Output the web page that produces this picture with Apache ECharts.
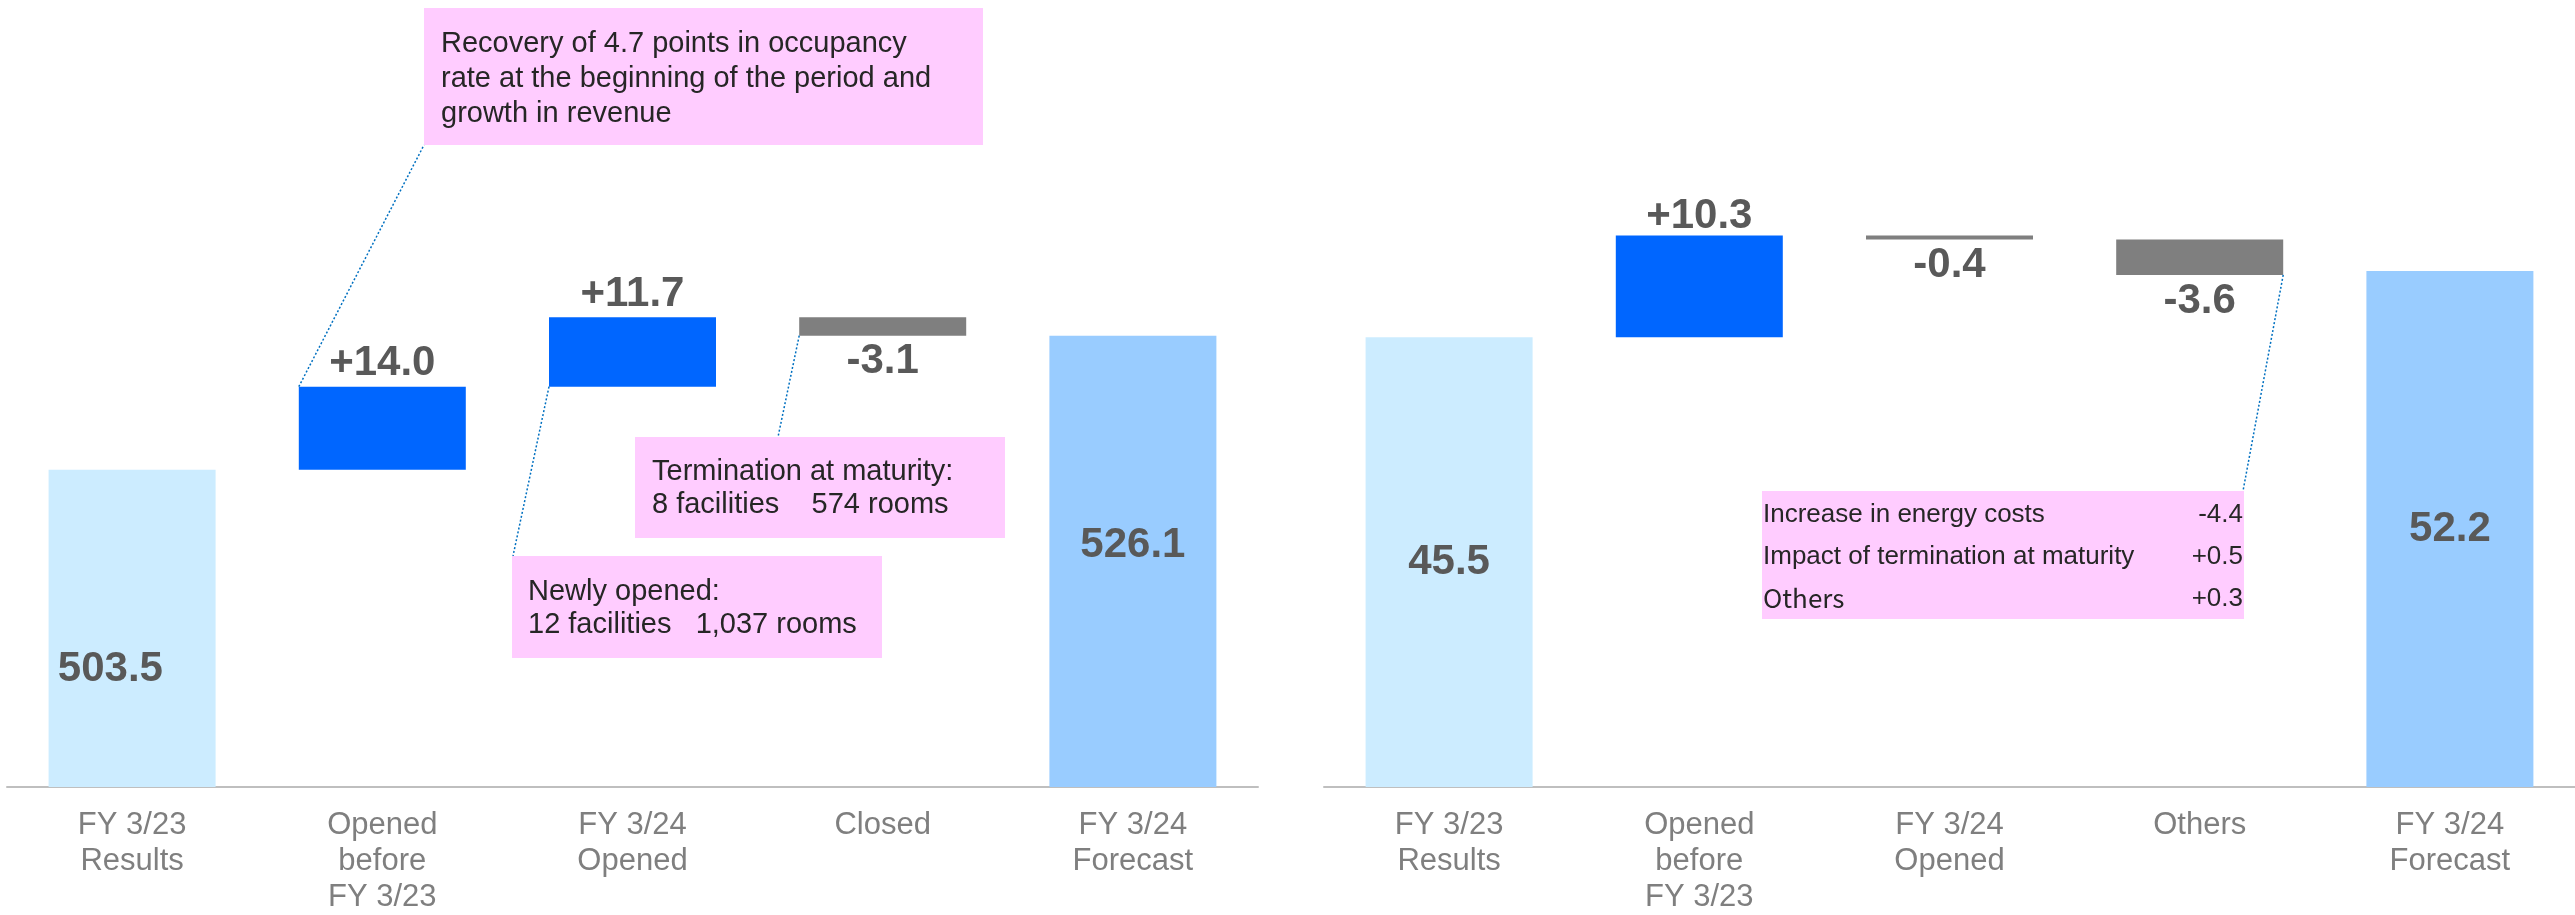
<!DOCTYPE html>
<html>
<head>
<meta charset="utf-8">
<script src="https://cdn.jsdelivr.net/npm/echarts@6/dist/echarts.min.js"></script>
<style>
html, body { margin: 0; padding: 0; background: #fff; }
#main { width: 2575px; height: 915px; }
</style>
</head>
<body>
<div id="main"></div>
<script>
// left: net sales bridge
var leftCategories = ['FY 3/23\nResults', 'Opened\nbefore\nFY 3/23', 'FY 3/24\nOpened', 'Closed', 'FY 3/24\nForecast'];
var leftStart = 503.5;
var leftSteps = [14.0, 11.7, -3.1];
var leftEnd = 526.1;

// right: profit bridge
var rightCategories = ['FY 3/23\nResults', 'Opened\nbefore\nFY 3/23', 'FY 3/24\nOpened', 'Others', 'FY 3/24\nForecast'];
var rightStart = 45.5;
var rightSteps = [10.3, -0.4, -3.6];
var rightEnd = 52.2;

// breakdown of "Others" (right chart)
var otherItems = ['Increase in energy costs', 'Impact of termination at maturity', 'Others'];
var otherValues = ['-4.4', '+0.5', '+0.3'];

var FONT = '"Liberation Sans", Arial, sans-serif';
var COLOR_START = '#CCECFF';
var COLOR_UP = '#0066FF';
var COLOR_DOWN = '#7F7F7F';
var COLOR_END = '#99CCFF';
var LABEL_COLOR = '#595959';
var BAR_W = 167;

function signed(v){
	return (v > 0 ? '+' : '') + v.toFixed(1);
}

// build the invisible base + visible bar for a waterfall
function buildWaterfall(start, steps, end, startPos, endPos, upDist){
	var base = [0];
	var bars = [];
	var valueLabel = {show: true, color: LABEL_COLOR, fontFamily: FONT, fontWeight: 'bold', fontSize: 42,
		formatter: function(p){ return p.data.text; }};
	bars.push({value: start, text: start.toFixed(1), itemStyle: {color: COLOR_START},
		label: Object.assign({}, valueLabel, startPos)});
	var running = start;
	for(var i = 0; i < steps.length; i++){
		var d = steps[i];
		if(d >= 0){
			base.push(running);
			bars.push({value: d, text: signed(d), itemStyle: {color: COLOR_UP},
				label: Object.assign({}, valueLabel, {position: 'top', distance: upDist})});
		}else{
			base.push(running + d);
			bars.push({value: -d, text: signed(d), itemStyle: {color: COLOR_DOWN},
				label: Object.assign({}, valueLabel, {position: 'bottom', distance: 5})});
		}
		running += d;
	}
	base.push(0);
	bars.push({value: end, text: end.toFixed(1), itemStyle: {color: COLOR_END},
		label: Object.assign({}, valueLabel, endPos)});
	return {base: base, bars: bars};
}

var leftWf = buildWaterfall(leftStart, leftSteps, leftEnd,
	{position: ['37%', '63%'], align: 'center', verticalAlign: 'middle'},
	{position: ['50%', '46.5%'], align: 'center', verticalAlign: 'middle'}, 2);
var rightWf = buildWaterfall(rightStart, rightSteps, rightEnd,
	{position: 'inside'}, {position: 'inside'}, -2);

function xAxisFor(idx, cats){
	return {
		type: 'category', gridIndex: idx, data: cats,
		axisLine: {lineStyle: {color: '#BFBFBF', width: 2}},
		axisTick: {show: false},
		axisLabel: {color: '#7F7F7F', fontFamily: FONT, fontSize: 31, lineHeight: 36, margin: 20, interval: 0}
	};
}
function yAxisFor(idx, min, max){
	return {type: 'value', gridIndex: idx, min: min, max: max, show: false, splitLine: {show: false}};
}

var chart = echarts.init(document.getElementById('main'));
chart.setOption({
	animation: false,
	grid: [
		{left: 7, top: 16, width: 1251, height: 775},
		{left: 1324, top: 16, width: 1251, height: 775}
	],
	xAxis: [xAxisFor(0, leftCategories), xAxisFor(1, rightCategories)],
	yAxis: [yAxisFor(0, 450, 580), yAxisFor(1, 0, 78)],
	series: [
		{type: 'bar', xAxisIndex: 0, yAxisIndex: 0, stack: 'l', barWidth: BAR_W, silent: true,
			itemStyle: {color: 'transparent'}, data: leftWf.base},
		{type: 'bar', xAxisIndex: 0, yAxisIndex: 0, stack: 'l', barWidth: BAR_W, data: leftWf.bars},
		{type: 'bar', xAxisIndex: 1, yAxisIndex: 1, stack: 'r', barWidth: BAR_W, silent: true,
			itemStyle: {color: 'transparent'}, data: rightWf.base},
		{type: 'bar', xAxisIndex: 1, yAxisIndex: 1, stack: 'r', barWidth: BAR_W, data: rightWf.bars}
	]
});

// annotation boxes and leader lines
function px(grid, cat, val){
	return chart.convertToPixel({xAxisIndex: grid, yAxisIndex: grid}, [cat, val]);
}
var half = BAR_W / 2;
var lineStyle = {stroke: '#0070C0', lineWidth: 1.5, lineDash: [2, 2], fill: null};
var boxFill = '#FFCCFF';
var textColor = '#262626';

var l1 = px(0, 1, leftStart + leftSteps[0]);
var l2 = px(0, 2, leftStart + leftSteps[0]);
var l3 = px(0, 3, leftStart + leftSteps[0] + leftSteps[1] + leftSteps[2]);
var r1 = px(1, 3, rightStart + rightSteps[0] + rightSteps[1] + rightSteps[2]);

var graphics = [
	{type: 'line', z: 10, shape: {x1: l1[0] - half, y1: l1[1], x2: 424, y2: 145}, style: lineStyle},
	{type: 'line', z: 10, shape: {x1: l2[0] - half, y1: l2[1], x2: 513, y2: 556}, style: lineStyle},
	{type: 'line', z: 10, shape: {x1: l3[0] - half, y1: l3[1], x2: 778, y2: 437}, style: lineStyle},
	{type: 'line', z: 10, shape: {x1: r1[0] + half, y1: r1[1], x2: 2243, y2: 491}, style: lineStyle},

	{type: 'rect', z: 20, shape: {x: 424, y: 8, width: 559, height: 137}, style: {fill: boxFill}},
	{type: 'text', z: 21, style: {x: 441, y: 26, text: 'Recovery of 4.7 points in occupancy\nrate at the beginning of the period and\ngrowth in revenue',
		font: '29px ' + FONT, lineHeight: 35, fill: textColor, verticalAlign: 'top'}},

	{type: 'rect', z: 20, shape: {x: 635, y: 437, width: 370, height: 101}, style: {fill: boxFill}},
	{type: 'text', z: 21, style: {x: 652, y: 455, text: 'Termination at maturity:\n8 facilities    574 rooms',
		font: '29px ' + FONT, lineHeight: 33.5, fill: textColor, verticalAlign: 'top'}},

	{type: 'rect', z: 20, shape: {x: 512, y: 556, width: 370, height: 102}, style: {fill: boxFill}},
	{type: 'text', z: 21, style: {x: 528, y: 575, text: 'Newly opened:\n12 facilities   1,037 rooms',
		font: '29px ' + FONT, lineHeight: 33.5, fill: textColor, verticalAlign: 'top'}},

	{type: 'rect', z: 20, shape: {x: 1762, y: 491, width: 482, height: 128}, style: {fill: boxFill}}
];
var rowY = [514.4, 556.4, 598.4];
for(var i = 0; i < otherItems.length; i++){
	var fam = otherItems[i] == 'Others' ? '"Noto Sans CJK JP", ' + FONT : FONT;
	graphics.push({type: 'text', z: 21, style: {x: 1763, y: rowY[i], text: otherItems[i],
		font: '26px ' + fam, fill: textColor, verticalAlign: 'middle'}});
	graphics.push({type: 'text', z: 21, style: {x: 2243, y: rowY[i], text: otherValues[i],
		font: '26px ' + FONT, fill: textColor, align: 'right', verticalAlign: 'middle'}});
}
chart.setOption({graphic: graphics});
</script>
</body>
</html>
